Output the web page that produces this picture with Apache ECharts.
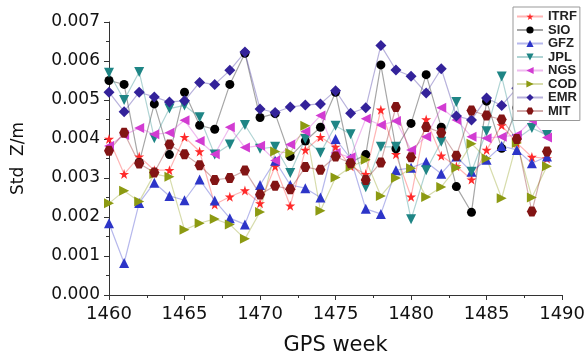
<!DOCTYPE html>
<html><head><meta charset="utf-8">
<script src="https://cdn.jsdelivr.net/npm/echarts@6/dist/echarts.min.js"></script>
<style>html,body{margin:0;padding:0;background:#fff}#c{width:588px;height:361px}</style>
</head><body><div id="c"></div>
<script>
const weeks = [1460,1461,1462,1463,1464,1465,1466,1467,1468,1469,1470,1471,1472,1473,1474,1475,1476,1477,1478,1479,1480,1481,1482,1483,1484,1485,1486,1487,1488,1489];
// values in mm (converted to m below)
const ITRF = [4.0,3.1,3.55,3.2,3.2,4.05,3.68,2.32,2.52,2.68,2.35,3.3,2.29,3.72,4.05,3.8,3.3,3.1,4.75,3.61,2.52,4.5,3.57,3.3,2.96,3.72,4.35,3.9,3.54,3.5];
const SIO  = [5.5,5.4,3.4,4.9,3.6,5.2,4.35,4.25,5.4,6.2,4.55,4.65,3.55,3.95,4.3,5.2,3.4,3.6,5.9,3.75,4.4,5.65,4.3,2.78,2.12,4.97,3.76,4.8,5.0,4.7];
const GFZ  = [1.84,0.82,2.36,2.88,2.54,2.43,2.96,2.42,1.97,1.81,2.82,3.44,2.82,2.74,2.5,4.0,3.5,2.21,2.08,3.2,3.26,3.41,3.11,3.55,3.16,3.47,3.82,3.72,3.38,3.55];
const JPL  = [5.7,5.0,5.72,4.02,4.78,4.86,4.56,3.6,3.86,4.36,3.75,3.8,3.13,4.0,3.65,4.34,4.12,2.76,3.8,3.8,1.94,3.2,3.93,4.95,3.16,4.2,5.6,4.0,4.28,4.1];
const NGS  = [3.82,4.1,4.28,4.12,4.16,4.48,3.95,3.61,4.3,3.78,3.83,3.45,3.86,4.19,4.6,3.64,3.53,4.52,4.36,4.46,3.72,4.06,4.8,4.49,4.06,4.02,4.06,4.1,4.48,4.04];
const COD  = [2.35,2.67,2.4,3.1,3.03,1.67,1.84,1.95,1.81,1.44,2.13,3.68,3.64,4.34,2.16,3.01,3.28,3.47,2.54,3.0,3.25,2.51,2.77,3.26,3.88,3.5,2.48,3.9,2.5,3.3];
const EMR  = [5.2,4.7,5.2,5.08,4.95,4.98,5.45,5.4,5.76,6.23,4.77,4.68,4.82,4.87,4.9,5.24,4.66,4.8,6.4,5.77,5.61,5.18,5.8,4.59,4.49,5.05,4.86,5.3,5.5,5.2];
const MIT  = [3.7,4.16,3.37,3.14,3.86,3.61,3.33,2.95,3.0,3.19,2.58,2.8,2.71,3.28,3.21,3.55,3.38,2.95,3.4,4.82,3.53,4.31,4.16,3.57,4.73,4.6,4.5,4.0,2.14,3.68];
const yTicks = ['0.000','0.001','0.002','0.003','0.004','0.005','0.006','0.007'];

const STAR = 'path://M50,0 L61,35 L98,35 L68,57 L79,91 L50,70 L21,91 L32,57 L2,35 L39,35Z';
const TRI_DOWN = 'path://M0,0 L100,0 L50,90 Z';
const TRI_LEFT = 'path://M0,50 L90,0 L90,100 Z';
const TRI_RIGHT = 'path://M90,50 L0,0 L0,100 Z';
const HEX = 'path://M25,0 L75,0 L100,50 L75,100 L25,100 L0,50Z';

const defs = [
  {name:'ITRF', data:ITRF, color:'#ff2a2a', symbol:STAR, size:10},
  {name:'SIO', data:SIO, color:'#000000', symbol:'circle', size:9},
  {name:'GFZ', data:GFZ, color:'#2d35c8', symbol:'triangle', size:10},
  {name:'JPL', data:JPL, color:'#1e8585', symbol:TRI_DOWN, size:10},
  {name:'NGS', data:NGS, color:'#d23cd2', symbol:TRI_LEFT, size:10},
  {name:'COD', data:COD, color:'#8c9a12', symbol:TRI_RIGHT, size:10},
  {name:'EMR', data:EMR, color:'#33229a', symbol:'diamond', size:11},
  {name:'MIT', data:MIT, color:'#821414', symbol:HEX, size:10}
];

const series = defs.map(d => ({
  name: d.name, type: 'line',
  data: weeks.map((w,i) => [w, d.data[i]/1000]),
  symbol: d.symbol, symbolSize: d.size,
  itemStyle: {color: d.color, opacity: 1},
  lineStyle: {color: d.color, width: 1.2, opacity: 0.35},
  emphasis: {disabled: true},
  z: 2,
  animation: false
}));

const chart = echarts.init(document.getElementById('c'), null, {renderer:'canvas'});
chart.setOption({
  backgroundColor: '#fff',
  animation: false,
  grid: {left:109, right:24, top:22, bottom:62},
  legend: {
    orient:'vertical', left:513, top:7, z:20, zlevel:1,
    backgroundColor:'#fff', borderColor:'#999', borderWidth:1,
    padding:[3,3,3,3], itemWidth:26, itemHeight:9, itemGap:0.5,
    textStyle:{fontFamily:'Liberation Sans', fontWeight:'bold', fontSize:13, lineHeight:13, color:'#222'},
    data: defs.map(d=>d.name)
  },
  xAxis: {
    type:'value', min:1460, max:1490, interval:5,
    name:'GPS week', nameLocation:'middle', nameGap:40,
    nameTextStyle:{fontFamily:'DejaVu Sans', fontSize:21, color:'#111'},
    axisLine:{show:true, lineStyle:{color:'#333', width:1}},
    axisTick:{show:true, inside:false, length:5, lineStyle:{color:'#333'}},
    minorTick:{show:true, splitNumber:2, length:3, lineStyle:{color:'#333'}},
    axisLabel:{fontFamily:'DejaVu Sans', fontSize:18, color:'#111', margin:10,
      formatter:(v)=> String(v)},
    splitLine:{show:false}
  },
  yAxis: {
    type:'value', min:0, max:0.007, interval:0.001,
    name:'Std  Z/m', nameLocation:'middle', nameGap:82, nameRotate:90,
    nameTextStyle:{fontFamily:'DejaVu Sans', fontSize:17, color:'#111'},
    axisLine:{show:true, lineStyle:{color:'#333', width:1}},
    axisTick:{show:true, inside:false, length:5, lineStyle:{color:'#333'}},
    minorTick:{show:true, splitNumber:2, length:3, lineStyle:{color:'#333'}},
    axisLabel:{fontFamily:'DejaVu Sans', fontSize:17, color:'#111', margin:9,
      formatter:(v)=> yTicks[Math.round(v*1000)]},
    splitLine:{show:false}
  },
  series: series
});
</script></body></html>
